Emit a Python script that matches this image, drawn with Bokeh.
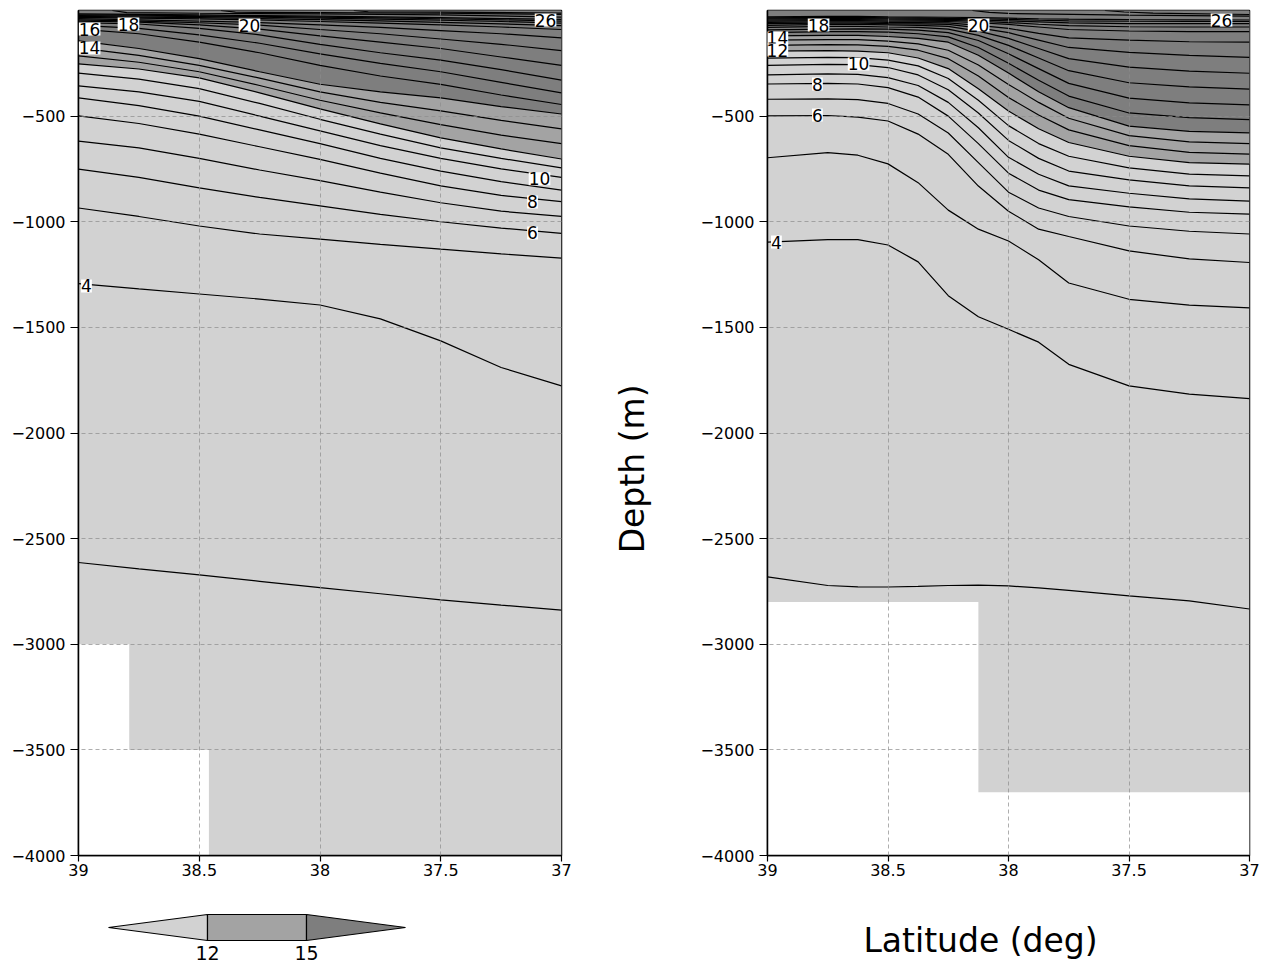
import numpy as np
from bokeh.plotting import figure
from bokeh.models import Range1d, FixedTicker, ColumnDataSource, LabelSet
from bokeh.layouts import row, column
from bokeh.embed import file_html
from bokeh.resources import INLINE
from bokeh.core.properties import value

# ---------------- data ----------------
LEVELS = [3, 4, 5, 6, 7, 8, 9, 10, 11, 12, 13, 14, 15, 16, 17, 18, 19, 20, 21, 22, 23, 24, 25, 26]

LEFT_LAT = [39.0, 38.75, 38.5, 38.25, 38.0, 37.75, 37.5, 37.25, 37.0]
# depth (m) of each isotherm at LEFT_LAT, left section
LEFT_DEPTH = [
    [-2613, -2643, -2672, -2702, -2732, -2761, -2790, -2815, -2838],  # 3
    [-1293, -1318, -1342, -1366, -1394, -1460, -1564, -1690, -1777],  # 4
    [-935, -975, -1020, -1058, -1082, -1107, -1130, -1152, -1172],    # 5
    [-751, -790, -840, -885, -925, -965, -1000, -1030, -1055],        # 6
    [-618, -650, -700, -755, -805, -860, -910, -950, -975],           # 7
    [-499, -535, -585, -645, -705, -770, -830, -875, -905],           # 8
    [-414, -450, -500, -565, -630, -700, -760, -810, -850],           # 9
    [-357, -385, -430, -500, -570, -640, -700, -750, -790],           # 10
    [-296, -325, -370, -440, -515, -585, -650, -700, -745],           # 11
    [-253, -277, -319, -390, -466, -537, -603, -655, -703],           # 12
    [-215, -245, -290, -355, -425, -485, -540, -590, -630],           # 13
    [-177, -212, -260, -320, -385, -435, -475, -520, -560],           # 14
    [-144, -180, -228, -290, -349, -385, -414, -455, -490],           # 15
    [-88, -110, -150, -200, -260, -310, -350, -400, -445],            # 16
    [-70, -85, -115, -155, -205, -250, -290, -340, -390],             # 17
    [-58, -64, -85, -115, -160, -200, -235, -280, -330],              # 18
    [-50, -55, -68, -88, -120, -150, -180, -220, -260],               # 19
    [-44, -50, -58, -69, -90, -110, -135, -160, -190],                # 20
    [-38, -44, -50, -57, -68, -80, -95, -110, -130],                  # 21
    [-33, -36, -40, -45, -52, -60, -68, -78, -90],                    # 22
    [-28, -31, -34, -38, -43, -49, -56, -63, -72],                    # 23
    [-24, -26, -29, -32, -36, -41, -46, -52, -60],                    # 24
    [-20, -22, -25, -28, -31, -35, -39, -44, -50],                    # 25
    [-16, -18, -21, -24, -27, -30, -34, -38, -42],                    # 26
]

RIGHT_LAT = [39.0, 38.75, 38.625, 38.5, 38.375, 38.25, 38.125, 38.0, 37.875, 37.75, 37.5, 37.25, 37.0]
# depth (m) of each isotherm at RIGHT_LAT, right section
RIGHT_DEPTH = [
    [-2681, -2722, -2728, -2729, -2726, -2722, -2720, -2724, -2733, -2745, -2771, -2795, -2833],  # 3
    [-1096, -1085, -1085, -1110, -1190, -1350, -1450, -1509, -1570, -1675, -1777, -1816, -1837],  # 4
    [-697, -673, -685, -726, -815, -945, -1035, -1091, -1180, -1290, -1367, -1395, -1408],        # 5
    [-499, -497, -505, -523, -585, -681, -831, -950, -1035, -1070, -1138, -1176, -1193],          # 6
    [-420, -418, -422, -440, -490, -580, -720, -860, -935, -975, -1020, -1045, -1058],            # 7
    [-348, -345, -348, -365, -410, -500, -630, -770, -850, -895, -930, -955, -964],               # 8
    [-305, -300, -302, -318, -355, -435, -555, -695, -775, -830, -865, -892, -902],               # 9
    [-260, -255, -256, -270, -305, -375, -485, -615, -700, -760, -802, -830, -840],               # 10
    [-225, -222, -223, -235, -262, -322, -425, -545, -630, -690, -745, -775, -783],               # 11
    [-192, -190, -192, -200, -225, -275, -370, -476, -560, -625, -690, -720, -727],               # 12
    [-165, -162, -163, -170, -188, -228, -310, -412, -495, -565, -640, -672, -680],               # 13
    [-140, -138, -138, -145, -158, -188, -258, -350, -435, -510, -592, -622, -630],               # 14
    [-120, -118, -118, -123, -132, -150, -212, -296, -385, -460, -547, -572, -579],               # 15
    [-105, -100, -100, -102, -110, -125, -175, -250, -330, -405, -485, -507, -517],               # 16
    [-92, -88, -87, -88, -93, -105, -142, -205, -275, -345, -415, -437, -447],                    # 17
    [-80, -75, -75, -78, -80, -88, -118, -165, -225, -285, -342, -362, -372],                     # 18
    [-70, -66, -66, -68, -70, -75, -98, -132, -180, -228, -268, -287, -297],                      # 19
    [-62, -60, -60, -62, -63, -66, -82, -105, -140, -175, -198, -212, -222],                      # 20
    [-56, -54, -54, -56, -57, -59, -70, -85, -108, -130, -140, -148, -150],                       # 21
    [-50, -48, -48, -50, -51, -52, -58, -66, -78, -90, -97, -100, -100],                          # 22
    [-45, -43, -43, -45, -46, -47, -51, -57, -65, -72, -77, -78, -78],                            # 23
    [-40, -38, -38, -40, -41, -42, -45, -49, -54, -59, -62, -62, -62],                            # 24
    [-35, -33, -33, -35, -36, -37, -39, -42, -46, -49, -51, -52, -52],                            # 25
    [-30, -28, -28, -30, -31, -32, -34, -36, -39, -41, -43, -44, -45],                            # 26
]

# warm isotherms that outcrop at the surface
LEFT_SURF_LAT = [[38.86, 38.8, 38.5, 38.0, 37.5, 37.0],
                 [38.41, 38.35, 38.0, 37.5, 37.0],
                 [37.86, 37.8, 37.5, 37.0]]
LEFT_SURF_DEPTH = [[0, -10, -13, -16, -21, -31],
                   [0, -8, -10, -13, -18, -24],
                   [0, -6, -8, -12, -17]]
RIGHT_SURF_LAT = [[38.15, 38.08, 38.0, 37.5, 37.0],
                  [37.6, 37.52, 37.4, 37.0]]
RIGHT_SURF_DEPTH = [[0, -9, -14, -22, -27],
                    [0, -7, -12, -19]]

# bottom topography: sea floor depth for latitudes north of each edge
LEFT_BOTTOM_EDGES = [39.0, 38.79, 38.46, 37.0]
LEFT_BOTTOM_DEPTH = [-3000, -3500, -4000]
RIGHT_BOTTOM_EDGES = [39.0, 38.125, 37.0]
RIGHT_BOTTOM_DEPTH = [-2800, -3700]

# contour labels
LEFT_LABEL_TEXT = ["16", "14", "18", "20", "26", "10", "8", "6", "4"]
LEFT_LABEL_LAT = [38.954, 38.954, 38.793, 38.292, 37.066, 37.091, 37.12, 37.12, 38.967]
LEFT_LABEL_DEPTH = [-88, -177, -64, -69, -45, -797, -906, -1053, -1304]
RIGHT_LABEL_TEXT = ["14", "12", "18", "20", "26", "10", "8", "6", "4"]
RIGHT_LABEL_LAT = [38.959, 38.959, 38.788, 38.124, 37.116, 38.622, 38.793, 38.793, 38.963]
RIGHT_LABEL_DEPTH = [-130, -187, -69, -69, -45, -253, -348, -495, -1096]

SHADE_LEVELS = [12, 15]
SHADE_COLORS = ["#d2d2d2", "#a3a3a3", "#7e7e7e"]

X_TICKS = [39, 38.5, 38, 37.5, 37]
X_TICK_TEXT = ["39", "38.5", "38", "37.5", "37"]
Y_TICKS = [-4000, -3500, -3000, -2500, -2000, -1500, -1000, -500]

X_TITLE = "Latitude (deg)"
Y_TITLE = "Depth (m)"

FONT = "DejaVu Sans"


def make_panel(lat, depths, surf_lat, surf_depth, b_edges, b_depth,
               lab_text, lab_lat, lab_depth, width, height, bl, br, bb):
    p = figure(width=width, height=height, x_range=Range1d(lat[0], lat[-1]),
               y_range=Range1d(-4000, 0), output_backend="svg",
               toolbar_location=None, min_border_left=bl, min_border_right=br,
               min_border_top=10, min_border_bottom=bb)
    p.background_fill_color = "white"
    p.border_fill_color = "white"
    lo_i = LEVELS.index(SHADE_LEVELS[0])
    hi_i = LEVELS.index(SHADE_LEVELS[1])
    # shading
    p.quad(left=[lat[0]], right=[lat[-1]], top=[0], bottom=[-4000],
           fill_color=SHADE_COLORS[0], line_color=None)
    p.varea(x=lat, y1=depths[hi_i], y2=depths[lo_i], fill_color=SHADE_COLORS[1])
    p.varea(x=lat, y1=[0] * len(lat), y2=depths[hi_i], fill_color=SHADE_COLORS[2])
    # land below the sea floor (overlapping blocks from the northern edge)
    p.quad(left=[b_edges[0]] * len(b_depth), right=b_edges[1:], top=b_depth,
           bottom=[-4000] * len(b_depth), fill_color="white", line_color=None)
    # contours
    xs = [lat] * len(depths) + surf_lat
    ys = list(depths) + surf_depth
    p.multi_line(xs=xs, ys=ys, line_color="black", line_width=1.2)
    # labels
    src = ColumnDataSource(dict(x=lab_lat, y=lab_depth, t=lab_text))
    p.add_layout(LabelSet(x="x", y="y", text="t", source=src, text_align="center",
                          text_baseline="middle", text_font=value(FONT),
                          text_font_size="17px", text_color="black",
                          background_fill_color="white"))
    # axes
    p.xaxis.ticker = FixedTicker(ticks=X_TICKS)
    p.xaxis.major_label_overrides = {t: s for t, s in zip(X_TICKS, X_TICK_TEXT)}
    p.yaxis.ticker = FixedTicker(ticks=Y_TICKS)
    p.yaxis.major_label_overrides = {t: "\u2212" + str(abs(t)) for t in Y_TICKS}
    for ax in (p.xaxis, p.yaxis):
        ax.major_label_text_font = FONT
        ax.major_label_text_font_size = "16px"
        ax.major_label_text_color = "black"
        ax.axis_line_color = "black"
        ax.axis_line_width = 1.5
        ax.major_tick_line_color = "black"
        ax.major_tick_line_width = 1.2
        ax.major_tick_in = 0
        ax.minor_tick_line_color = None
    p.xaxis.major_tick_out = 6
    p.xaxis.major_label_standoff = 2
    p.yaxis.major_tick_out = 8
    p.yaxis.major_label_standoff = 5
    p.outline_line_color = "black"
    p.outline_line_width = 1.5
    p.xgrid.ticker = FixedTicker(ticks=X_TICKS[1:-1])
    p.ygrid.ticker = FixedTicker(ticks=Y_TICKS[1:])
    for g in (p.xgrid, p.ygrid):
        g.grid_line_color = "#8c8c8c"
        g.grid_line_alpha = 0.7
        g.grid_line_dash = "4 3"
        g.grid_line_width = 1
        g.level = "guide"
    return p


def blank(width, height, xr, yr, **borders):
    f = figure(width=width, height=height, x_range=xr, y_range=yr,
               output_backend="svg", toolbar_location=None, **borders)
    f.axis.visible = False
    f.grid.visible = False
    f.outline_line_color = None
    f.background_fill_color = "white"
    f.border_fill_color = "white"
    return f


left = make_panel(LEFT_LAT, LEFT_DEPTH, LEFT_SURF_LAT, LEFT_SURF_DEPTH, LEFT_BOTTOM_EDGES,
                  LEFT_BOTTOM_DEPTH, LEFT_LABEL_TEXT, LEFT_LABEL_LAT, LEFT_LABEL_DEPTH,
                  width=600, height=900, bl=78, br=39, bb=45)
right = make_panel(RIGHT_LAT, RIGHT_DEPTH, RIGHT_SURF_LAT, RIGHT_SURF_DEPTH, RIGHT_BOTTOM_EDGES,
                   RIGHT_BOTTOM_DEPTH, RIGHT_LABEL_TEXT, RIGHT_LABEL_LAT, RIGHT_LABEL_DEPTH,
                   width=584, height=900, bl=87, br=15, bb=45)

# colour bar (frame aligned with the left panel frame: 78..561 px)
lo, hi = SHADE_LEVELS
ext = hi - lo
cb = blank(600, 62, Range1d(8.091, 22.727), Range1d(-62, 0),
           min_border_left=78, min_border_right=39, min_border_top=0, min_border_bottom=0)
cb.patches(xs=[[lo - ext, lo, lo], [lo, hi, hi, lo], [hi, hi + ext, hi]],
           ys=[[-27, -14, -40], [-14, -14, -40, -40], [-14, -27, -40]],
           fill_color=SHADE_COLORS, line_color="black", line_width=1.2)
cb.text(x=SHADE_LEVELS, y=[-52, -52], text=[str(v) for v in SHADE_LEVELS],
        text_align="center", text_baseline="middle", text_font=value(FONT),
        text_font_size="19px", text_color="black")

# x-axis title below the right panel (frame aligned with right panel frame)
xt = blank(584, 62, Range1d(RIGHT_LAT[0], RIGHT_LAT[-1]), Range1d(-62, 0),
           min_border_left=87, min_border_right=15, min_border_top=0, min_border_bottom=0)
xt.text(x=[38.116], y=[-40], text=[X_TITLE], text_align="center",
        text_baseline="middle", text_font=value(FONT), text_font_size="33px",
        text_color="black")

# y-axis title strip between the panels
yt = blank(80, 962, Range1d(0, 80), Range1d(-4000, 0),
           min_border_left=0, min_border_right=0, min_border_top=10, min_border_bottom=107)
yt.text(x=[32], y=[-2170], text=[Y_TITLE], angle=[np.pi / 2], text_align="center",
        text_baseline="middle", text_font=value(FONT), text_font_size="33px",
        text_color="black")

layout = row(column(left, cb), yt, column(right, xt))
open("out.html", "w").write(file_html(layout, INLINE))
